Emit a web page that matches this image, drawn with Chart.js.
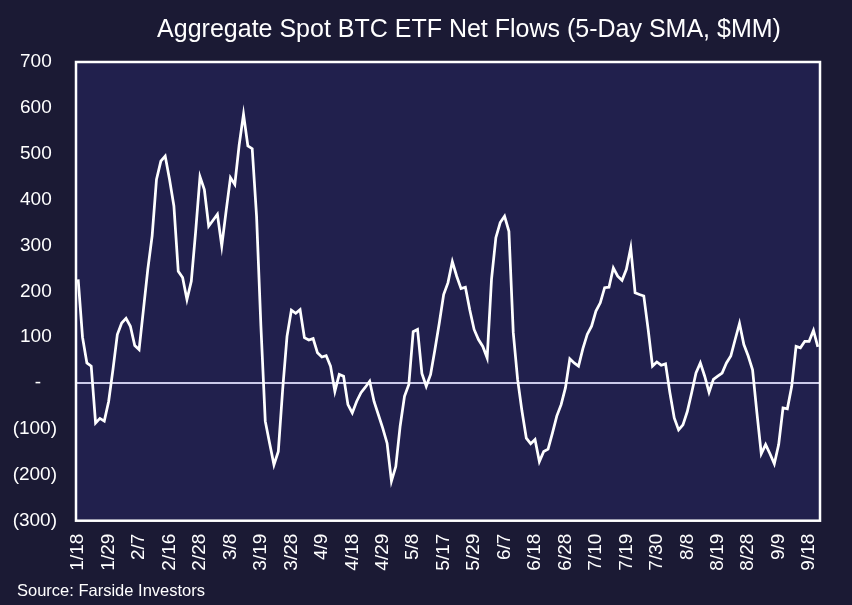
<!DOCTYPE html>
<html>
<head>
<meta charset="utf-8">
<script src="https://cdn.jsdelivr.net/npm/chart.js@4/dist/chart.umd.min.js"></script>
<style>
  body { margin: 0; background: #1b1a34; }
  #wrap { width: 852px; height: 605px; position: relative; }
</style>
</head>
<body>
<div id="wrap"><canvas id="LineChart"></canvas></div>
<script>
// trading days, 1/18 -> 9/20
var dates = [
  "1/18","1/19","1/22","1/23","1/24","1/25","1/26","1/29","1/30","1/31",
  "2/1","2/2","2/5","2/6","2/7","2/8","2/9","2/12","2/13","2/14","2/15","2/16","2/20","2/21","2/22","2/23","2/26","2/27","2/28","2/29",
  "3/1","3/4","3/5","3/6","3/7","3/8","3/11","3/12","3/13","3/14","3/15","3/18","3/19","3/20","3/21","3/22","3/25","3/26","3/27","3/28",
  "4/1","4/2","4/3","4/4","4/5","4/8","4/9","4/10","4/11","4/12","4/15","4/16","4/17","4/18","4/19","4/22","4/23","4/24","4/25","4/26","4/29","4/30",
  "5/1","5/2","5/3","5/6","5/7","5/8","5/9","5/10","5/13","5/14","5/15","5/16","5/17","5/20","5/21","5/22","5/23","5/24","5/28","5/29","5/30","5/31",
  "6/3","6/4","6/5","6/6","6/7","6/10","6/11","6/12","6/13","6/14","6/17","6/18","6/20","6/21","6/24","6/25","6/26","6/27","6/28",
  "7/1","7/2","7/3","7/5","7/8","7/9","7/10","7/11","7/12","7/15","7/16","7/17","7/18","7/19","7/22","7/23","7/24","7/25","7/26","7/29","7/30","7/31",
  "8/1","8/2","8/5","8/6","8/7","8/8","8/9","8/12","8/13","8/14","8/15","8/16","8/19","8/20","8/21","8/22","8/23","8/26","8/27","8/28","8/29","8/30",
  "9/3","9/4","9/5","9/6","9/9","9/10","9/11","9/12","9/13","9/16","9/17","9/18","9/19","9/20"
];

// 5-day SMA of net flows, $MM
var flows = [
  226, 100, 44, 37, -87, -77, -83, -40, 30, 106,
  131, 141, 124, 82, 73, 160, 248, 321, 444, 484,
  495, 444, 386, 244, 230, 182, 222, 330, 450, 422,
  342, 355, 368, 299, 375, 448, 433, 519, 586, 517,
  511, 364, 124, -83, -131, -178, -149, -14, 102, 159,
  152, 160, 99, 94, 97, 66, 57, 60, 37, -18,
  19, 15, -47, -65, -40, -21, -9, 4, -40, -69,
  -98, -131, -214, -182, -94, -29, -3, 112, 117, 21,
  -7, 19, 73, 131, 193, 219, 265, 233, 206, 209,
  160, 117, 95, 80, 55, 226, 317, 350, 364, 331,
  110, 8, -61, -120, -132, -123, -171, -149, -144, -109,
  -72, -47, -10, 53, 44, 37, 75, 106, 124, 157,
  175, 208, 209, 251, 233, 224, 248, 295, 197, 193,
  190, 117, 37, 46, 39, 42, -21, -76, -102, -91,
  -62, -21, 22, 44, 15, -20, 8, 15, 22, 44,
  59, 95, 130, 84, 59, 29, -65, -154, -134, -154,
  -176, -134, -54, -56, -7, 80, 77, 91, 91, 115,
  79
];

var yMin = -300, yMax = 700, yStep = 100;
var labelEvery = 7;   // a date label every 7 trading days

var titleText = "Aggregate Spot BTC ETF Net Flows (5-Day SMA, $MM)";
var sourceText = "Source: Farside Investors";

var FONT = "'Liberation Sans', Arial, sans-serif";

var frame = {
  id: 'frame',
  beforeDraw: function(chart) {
    var c = chart.ctx, a = chart.chartArea;
    c.save();
    c.fillStyle = '#1b1a34';
    c.fillRect(0, 0, chart.width, chart.height);
    c.fillStyle = '#21204d';
    c.fillRect(a.left, a.top, a.right - a.left, a.bottom - a.top);
    c.restore();
  },
  afterDraw: function(chart) {
    var c = chart.ctx, a = chart.chartArea;
    c.save();
    c.strokeStyle = '#ffffff';
    c.lineWidth = 2.5;
    c.strokeRect(a.left, a.top, a.right - a.left, a.bottom - a.top);
    c.fillStyle = '#ffffff';
    c.textBaseline = 'alphabetic';
    c.font = '25px ' + FONT;
    c.textAlign = 'center';
    c.fillText(titleText, 469, 37);
    c.font = '16.5px ' + FONT;
    c.textAlign = 'left';
    c.fillText(sourceText, 17, 596);
    c.restore();
  }
};

var ctx = document.getElementById("LineChart").getContext('2d');

var myChart = new Chart(ctx, {
  type: 'line',
  data: {
    labels: dates,
    datasets: [{
      label: 'Net Flows',
      data: flows,
      fill: false,
      borderColor: '#ffffff',
      borderWidth: 2.75,
      pointRadius: 0,
      tension: 0
    }]
  },
  options: {
    responsive: true,
    maintainAspectRatio: false,
    animation: false,
    layout: { padding: { top: 62, right: 32, bottom: 0, left: 0 } },
    plugins: {
      legend: { display: false },
      tooltip: { enabled: false }
    },
    scales: {
      x: {
        type: 'category',
        offset: true,
        grid: { display: false, drawTicks: false },
        border: { display: false },
        ticks: {
          autoSkip: false,
          minRotation: 90,
          maxRotation: 90,
          padding: 13,
          color: '#ffffff',
          font: { family: FONT, size: 19 },
          callback: function(v, i) { return i % labelEvery === 0 ? dates[i] : null; }
        },
        afterFit: function(scale) { scale.height = 84.3; }
      },
      y: {
        min: yMin,
        max: yMax,
        border: { display: false },
        grid: {
          drawTicks: false,
          lineWidth: 2,
          color: function(c) { return c.tick && c.tick.value === 0 ? '#cbcaea' : 'rgba(0,0,0,0)'; }
        },
        ticks: {
          stepSize: yStep,
          padding: 19,
          color: '#ffffff',
          font: { family: FONT, size: 19 },
          callback: function(v) {
            if (v === 0) return '-   ';
            if (v < 0) return '(' + Math.abs(v) + ')';
            return v + ' ';
          }
        },
        afterFit: function(scale) { scale.width = 76; }
      }
    }
  },
  plugins: [frame]
});
</script>
</body>
</html>
